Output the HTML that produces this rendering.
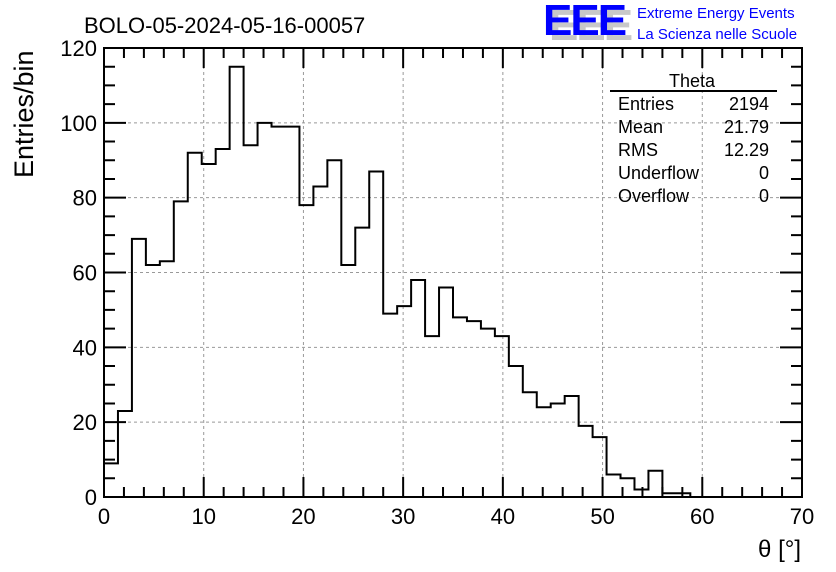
<!DOCTYPE html>
<html><head><meta charset="utf-8"><style>
body{margin:0;background:#fff;width:836px;height:572px;overflow:hidden}
svg{display:block;font-family:"Liberation Sans",Arial,sans-serif}
</style></head><body>
<svg id="c" width="836" height="572" viewBox="0 0 836 572">
<text x="84" y="33" font-size="22">BOLO-05-2024-05-16-00057</text>
<g>
<text x="549" y="40" font-size="44" font-weight="bold" fill="#c8c8c8" letter-spacing="-2">EEE</text>
<text x="543" y="35" font-size="44" font-weight="bold" fill="#0000ff" letter-spacing="-2">EEE</text>
<text x="637" y="18" font-size="15" fill="#0000ff">Extreme Energy Events</text>
<text x="637" y="39" font-size="15" fill="#0000ff">La Scienza nelle Scuole</text>
</g>
<g id="grid"></g>
<g id="axes"></g>
<path id="hist" fill="none" stroke="#000" stroke-width="2"></path>
<g font-size="18">
<text x="692" y="87" text-anchor="middle">Theta</text>
<line x1="610" y1="91" x2="777" y2="91" stroke="#000" stroke-width="2"/>
<text x="618" y="110">Entries</text><text x="769" y="110" text-anchor="end">2194</text>
<text x="618" y="133">Mean</text><text x="769" y="133" text-anchor="end">21.79</text>
<text x="618" y="156">RMS</text><text x="769" y="156" text-anchor="end">12.29</text>
<text x="618" y="179">Underflow</text><text x="769" y="179" text-anchor="end">0</text>
<text x="618" y="202">Overflow</text><text x="769" y="202" text-anchor="end">0</text>
</g>
<text x="801" y="557" font-size="24" text-anchor="end">θ [°]</text>
<text transform="translate(33,178) rotate(-90)" font-size="27">Entries/bin</text>
</svg>
<script>
const counts=[9,23,69,62,63,79,92,89,93,115,94,100,99,99,78,83,90,62,72,87,49,51,58,43,56,48,47,45,43,35,28,24,25,27,19,16,6,5,2,7,1,1,0,0,0,0,0,0,0,0];
const binWidth=1.4;
const xTicks=[0,10,20,30,40,50,60,70];
const yTicks=[0,20,40,60,80,100,120];
const L=104,R=802,T=48,B=497,xMax=70,yMax=120;
const X=v=>L+(R-L)*v/xMax, Y=v=>B-(B-T)*v/yMax;
const NS="http://www.w3.org/2000/svg";
function mk(p,t,a){const e=document.createElementNS(NS,t);for(const k in a)e.setAttribute(k,a[k]);p.appendChild(e);return e;}
const g=document.getElementById('grid'),ax=document.getElementById('axes');
xTicks.forEach(v=>{if(v>0&&v<xMax){const l=mk(g,'line',{x1:X(v),x2:X(v),y1:T,y2:B,stroke:'#999','stroke-dasharray':'3,3'});

}
const t=mk(ax,'text',{x:X(v),y:B+27,'font-size':22,'text-anchor':'middle'});t.textContent=v;

});
yTicks.forEach(v=>{if(v>0&&v<yMax){const l=mk(g,'line',{x1:L,x2:R,y1:Y(v),y2:Y(v),stroke:'#999','stroke-dasharray':'3,3'});

}
const t=mk(ax,'text',{x:L-7,y:Y(v)+8,'font-size':22,'text-anchor':'end'});t.textContent=v;

});
let d='';
for(let v=0;v<=xMax;v+=2){const len=v%10===0?20:10;d+=`M${X(v)},${B}v${-len}M${X(v)},${T}v${len}`;}
for(let v=0;v<=yMax;v+=5){const len=v%20===0?22:11;d+=`M${L},${Y(v)}h${len}M${R},${Y(v)}h${-len}`;}
const tk=mk(ax,'path',{d:d,stroke:'#000','stroke-width':2,fill:'none'});


const fr=mk(ax,'rect',{x:L,y:T,width:R-L,height:B-T,fill:'none',stroke:'#000','stroke-width':2});


let h=`M${X(0)},${Y(counts[0])}`;
counts.forEach((c,i)=>{h+=`L${X(i*binWidth)},${Y(c)}L${X((i+1)*binWidth)},${Y(c)}`;});
document.getElementById('hist').setAttribute('d',h);
</script>
</body></html>
